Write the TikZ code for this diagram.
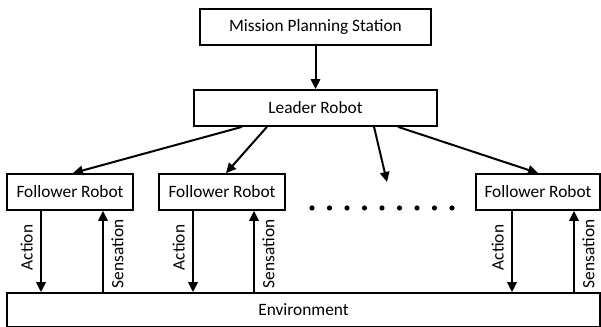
\documentclass[tikz,border=0pt]{standalone}
\usepackage{fontspec}
\setmainfont{Carlito}
\usetikzlibrary{arrows.meta}
\tikzstyle{box}=[rectangle,draw=black,line width=1.3pt,inner sep=0pt,
  minimum width=95pt,minimum height=27pt,font=\fontsize{13}{15}\selectfont]
\tikzstyle{arr}=[line width=1.5pt,-{Triangle[length=7.5pt,width=7pt]}]
\tikzstyle{lbl}=[rotate=90,inner sep=5.5pt,font=\fontsize{13}{15}\selectfont]
\tikzstyle{dot}=[circle,fill=black,inner sep=0pt,minimum size=3.9pt]

\begin{document}
\begin{tikzpicture}[x=0.75pt,y=0.75pt]
    \useasboundingbox (0,0) rectangle (601,-327);
    \node [style=box,minimum width=173.2pt] (mps) at (315.5,-27) {Mission Planning Station};
    \node [style=box,minimum width=182.2pt] (leader) at (315.5,-108) {Leader Robot};
    \node [style=box] (f1) at (70,-192) {Follower Robot};
    \node [style=box] (f2) at (222,-192) {Follower Robot};
    \node [style=box,minimum width=93pt] (f3) at (538,-192) {Follower Robot};
    \node [style=box,minimum width=444.7pt,minimum height=25.5pt] (env) at (303.5,-310) {Environment};
    \coordinate (more) at (387,-182);
    % dots for the followers left out
    \foreach \i in {0,...,8}
        \node [style=dot] (dot\i) at (312+17.5*\i,-208) {};
    \draw [style=arr] (mps) to (leader);
    \draw [style=arr] ([xshift=-55.1pt]leader.south) to ([xshift=2.2pt]f1.north);
    \draw [style=arr] ([xshift=-36.4pt]leader.south) to ([xshift=3pt]f2.north);
    \draw [style=arr] ([xshift=43.9pt]leader.south) to (more);
    \draw [style=arr] ([xshift=61.9pt]leader.south) to (f3.north);
    % action goes down, sensation comes back up
    \foreach \f/\a/\s in {f1/-21.75/24.75, f2/-21.75/24, f3/-19.5/27} {
        \draw [style=arr] ([xshift=\a pt]\f.south) to
            node [style=lbl,pos=0.45,above] {Action} ([xshift=\a pt]\f.south |- env.north);
        \draw [style=arr] ([xshift=\s pt]\f.south |- env.north) to
            node [style=lbl,pos=0.47,below] {Sensation} ([xshift=\s pt]\f.south);
    }
  \end{tikzpicture}
\end{document}
